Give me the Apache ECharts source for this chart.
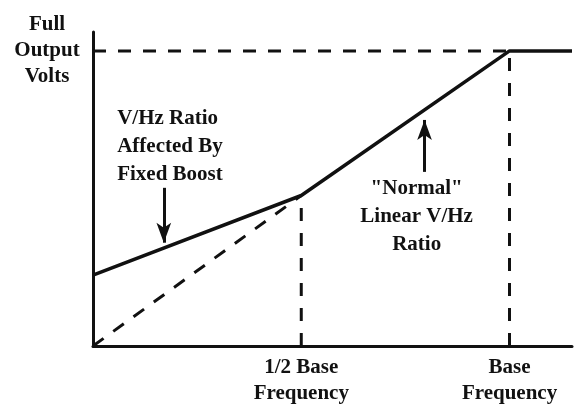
<!DOCTYPE html>
<html>
<head>
<meta charset="utf-8">
<script src="https://cdn.jsdelivr.net/npm/echarts@6/dist/echarts.min.js"></script>
<style>
html, body { margin: 0; padding: 0; background: #fff; }
#chart { width: 574px; height: 411px; }
</style>
</head>
<body>
<div id="chart"></div>
<script>
// frequency as a fraction of base frequency, voltage as a fraction of full output
const freqTicks = [0.5, 1];
const freqLabels = ['1/2 Base\nFrequency', 'Base\nFrequency'];
const voltTicks = [1];
const voltLabels = ['Full\nOutput\nVolts'];

const boostCurve = [[0, 0.24], [0.5, 0.51], [1, 1], [1.15, 1]];
const linearRatio = [[0, 0], [0.5, 0.51]];
const fullVolts = [[0, 1], [1, 1]];
const halfBaseLine = [[0.5, 0], [0.5, 0.51]];
const baseLine = [[1, 0], [1, 1]];

// callouts: text, anchor point, arrow from -> to
const noteTexts = ['V/Hz Ratio\nAffected By\nFixed Boost', '"Normal"\nLinear V/Hz\nRatio'];
const notePoints = [[0.058, 0.675], [0.777, 0.437]];
const arrows = [
  [[0.17, 0.536], [0.17, 0.35]],
  [[0.796, 0.59], [0.796, 0.766]]
];

const ink = '#111';
const font = '"Liberation Serif", "Times New Roman", serif';
const dash = [13, 12];

const myChart = echarts.init(document.getElementById('chart'));

function dashed(data) {
  return {
    type: 'line', data: data, symbol: 'none', silent: true,
    lineStyle: { color: ink, width: 3, type: dash }
  };
}

const option = {
  animation: false,
  grid: { left: 93, right: 2, top: 32, bottom: 65 },
  xAxis: {
    type: 'value', min: 0, max: 1.15,
    axisLine: { lineStyle: { color: ink, width: 3 } },
    axisTick: { show: false },
    splitLine: { show: false },
    axisLabel: {
      customValues: freqTicks,
      formatter: v => freqLabels[freqTicks.indexOf(v)],
      margin: 9, color: ink, fontFamily: font, fontWeight: 'bold',
      fontSize: 21, lineHeight: 26, align: 'center'
    }
  },
  yAxis: {
    type: 'value', min: 0, max: 1.064,
    axisLine: { show: true, lineStyle: { color: ink, width: 3 } },
    axisTick: { show: false },
    splitLine: { show: false },
    axisLabel: {
      customValues: voltTicks,
      formatter: v => voltLabels[voltTicks.indexOf(v)],
      margin: 46, color: ink, fontFamily: font, fontWeight: 'bold',
      fontSize: 21, lineHeight: 26, align: 'center', verticalAlign: 'middle'
    }
  },
  series: [
    dashed(linearRatio),
    dashed(fullVolts),
    dashed(halfBaseLine),
    dashed(baseLine),
    {
      type: 'line', data: boostCurve, symbol: 'none', silent: true,
      lineStyle: { color: ink, width: 3.5 },
      markLine: {
        silent: true, symbol: ['none', 'arrow'], symbolSize: [11, 20],
        label: { show: false },
        lineStyle: { color: ink, width: 3, type: 'solid' },
        data: arrows.map(a => [{ coord: a[0] }, { coord: a[1] }])
      },
      markPoint: {
        silent: true, symbol: 'circle', symbolSize: 0,
        data: noteTexts.map((t, i) => ({
          coord: notePoints[i],
          label: {
            show: true, formatter: t, position: 'inside',
            align: i === 0 ? 'left' : 'center', verticalAlign: 'middle',
            color: ink, fontFamily: font, fontWeight: 'bold',
            fontSize: 21, lineHeight: 28
          }
        }))
      }
    }
  ]
};

myChart.setOption(option);
</script>
</body>
</html>
